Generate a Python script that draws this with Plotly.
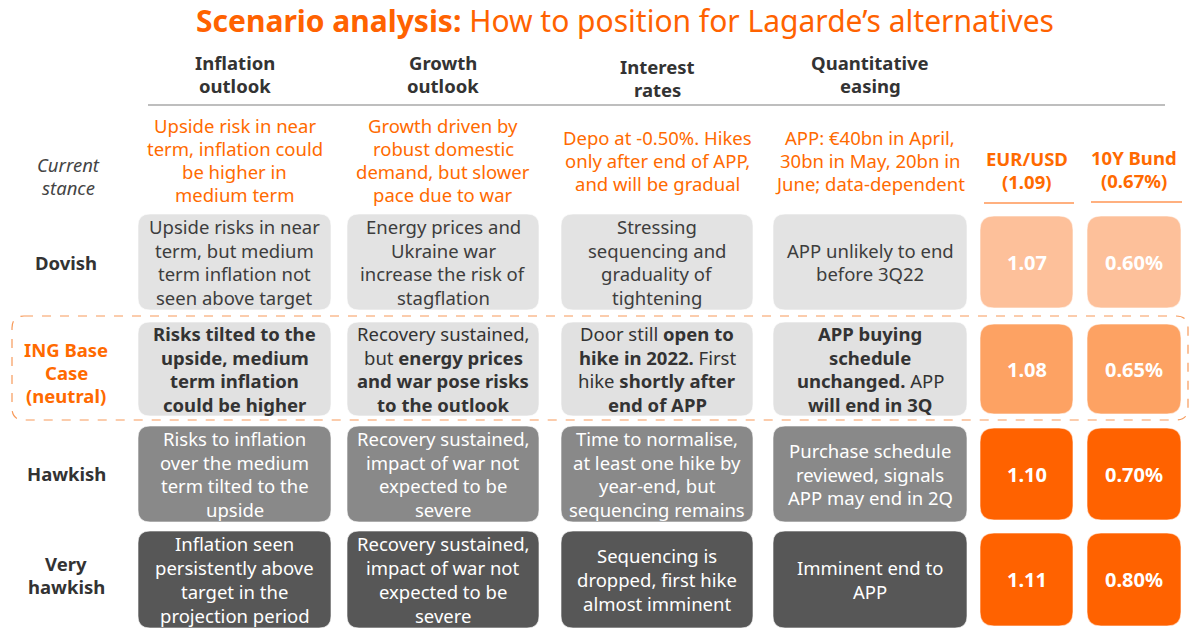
import plotly.graph_objects as go

# ---------------- data ----------------
column_headers = ["Inflation<br>outlook", "Growth<br>outlook", "Interest<br>rates", "Quantitative<br>easing"]
current_stance = [
    "Upside risk in near<br>term, inflation could<br>be higher in<br>medium term",
    "Growth driven by<br>robust domestic<br>demand, but slower<br>pace due to war",
    "Depo at -0.50%. Hikes<br>only after end of APP,<br>and will be gradual",
    "APP: €40bn in April,<br>30bn in May, 20bn in<br>June; data-dependent",
]
scenarios = ["Dovish", "ING Base<br>Case<br>(neutral)", "Hawkish", "Very<br>hawkish"]
inflation_cells = [
    "Upside risks in near<br>term, but medium<br>term inflation not<br>seen above target",
    "<b>Risks tilted to the</b><br><b>upside, medium</b><br><b>term inflation</b><br><b>could be higher</b>",
    "Risks to inflation<br>over the medium<br>term tilted to the<br>upside",
    "Inflation seen<br>persistently above<br>target in the<br>projection period",
]
growth_cells = [
    "Energy prices and<br>Ukraine war<br>increase the risk of<br>stagflation",
    "Recovery sustained,<br>but <b>energy prices</b><br><b>and war pose risks</b><br><b>to the outlook</b>",
    "Recovery sustained,<br>impact of war not<br>expected to be<br>severe",
    "Recovery sustained,<br>impact of war not<br>expected to be<br>severe",
]
rates_cells = [
    "Stressing<br>sequencing and<br>graduality of<br>tightening",
    "Door still <b>open to</b><br><b>hike in 2022.</b> First<br>hike <b>shortly after</b><br><b>end of APP</b>",
    "Time to normalise,<br>at least one hike by<br>year-end, but<br>sequencing remains",
    "Sequencing is<br>dropped, first hike<br>almost imminent",
]
qe_cells = [
    "APP unlikely to end<br>before 3Q22",
    "<b>APP buying</b><br><b>schedule</b><br><b>unchanged.</b> APP<br><b>will end in 3Q</b>",
    "Purchase schedule<br>reviewed, signals<br>APP may end in 2Q",
    "Imminent end to<br>APP",
]
eurusd_current = 1.09
bund_current = 0.67
eurusd = [1.07, 1.08, 1.10, 1.11]
bund = [0.60, 0.65, 0.70, 0.80]

# ---------------- styling / layout ----------------
ORANGE = "#ff6200"
TXT_ORANGE = "#ff6a00"
DARK = "#333333"
FONT = "Noto Sans"
W, H = 1200, 635

col_x = [(138, 331), (347, 539), (561, 753), (773, 967)]
val_x = [(980, 1073), (1087, 1181)]
row_y = [(214, 310), (322, 416), (426, 522), (531, 628)]
label_dy = [0, 3, -1, -5]
cell_fill = ["#e3e3e3", "#e1e1e1", "#898989", "#575757"]
cell_text = ["#3d3d3d", "#333333", "#ffffff", "#ffffff"]
val_fill = ["#fdc09a", "#fda263", "#ff6200", "#ff6200"]
BODY = 18.5


def rrect(x0, y0, x1, y1, r=12):
    return (f"M{x0+r},{y0} L{x1-r},{y0} Q{x1},{y0} {x1},{y0+r} "
            f"L{x1},{y1-r} Q{x1},{y1} {x1-r},{y1} L{x0+r},{y1} "
            f"Q{x0},{y1} {x0},{y1-r} L{x0},{y0+r} Q{x0},{y0} {x0+r},{y0} Z")


shapes = []
ann = []


def lines(text, cx, cy, lh, size, color, wrap=""):
    parts = text.split("<br>")
    n = len(parts)
    for i, p in enumerate(parts):
        t = f"<{wrap}>{p}</{wrap}>" if wrap else p
        ann.append(dict(x=cx, y=cy + (i - (n - 1) / 2) * lh, text=t,
                        font=dict(size=size, color=color, family=FONT)))


# title
ann.append(dict(x=625, y=20, text="<b>Scenario analysis:</b> How to position for Lagarde’s alternatives",
                font=dict(size=30, color=ORANGE, family=FONT)))

# column headers
for i, h in enumerate(column_headers):
    cx = (col_x[i][0] + col_x[i][1]) / 2
    yy = 78 if i == 2 else 74
    lines(h, cx, yy, 23, 18.5, DARK, "b")
shapes.append(dict(type="line", x0=148, x1=1165, y0=105, y1=105, line=dict(color="#7f7f7f", width=1.2)))

# current stance
lines("Current<br>stance", 68, 176, 23, 18.5, "#444444", "i")
for i, t in enumerate(current_stance):
    cx = (col_x[i][0] + col_x[i][1]) / 2
    lines(t, cx, 160, 23, 18.5, TXT_ORANGE)
lines(f"EUR/USD<br>({eurusd_current:.2f})", 1027, 170, 23, 18.5, TXT_ORANGE, "b")
lines(f"10Y Bund<br>({bund_current:.2f}%)", 1134, 169, 23, 18.5, TXT_ORANGE, "b")
shapes.append(dict(type="line", x0=984, x1=1074, y0=203, y1=203, line=dict(color=ORANGE, width=1.2)))
shapes.append(dict(type="line", x0=1091, x1=1182, y0=202, y1=202, line=dict(color=ORANGE, width=1.2)))

# base case dashed frame
shapes.append(dict(type="path", path=rrect(12, 316, 1188, 420, 12),
                   line=dict(color="#f79a5a", width=1.2, dash="dash"), fillcolor="rgba(0,0,0,0)"))

# rows
columns = [inflation_cells, growth_cells, rates_cells, qe_cells]
for r, name in enumerate(scenarios):
    y0, y1 = row_y[r]
    cy = (y0 + y1) / 2
    lcol = TXT_ORANGE if r == 1 else DARK
    lines(name, 66, cy + label_dy[r], 23, BODY, lcol, "b")
    for c in range(4):
        x0, x1 = col_x[c]
        shapes.append(dict(type="path", path=rrect(x0, y0, x1, y1, 12), fillcolor=cell_fill[r],
                           line=dict(color="rgba(255,255,255,0.6)", width=1), layer="below"))
        lines(columns[c][r], (x0 + x1) / 2, cy, 23.8, BODY, cell_text[r])
    for k, (vals, fmt) in enumerate([(eurusd, "{:.2f}"), (bund, "{:.2f}%")]):
        x0, x1 = val_x[k]
        vy0, vy1 = y0 + 2, y1 - 2
        shapes.append(dict(type="path", path=rrect(x0, vy0, x1, vy1, 14), fillcolor=val_fill[r],
                           line=dict(color="rgba(255,255,255,0.6)", width=1), layer="below"))
        ann.append(dict(x=(x0 + x1) / 2, y=(vy0 + vy1) / 2, text="<b>" + fmt.format(vals[r]) + "</b>",
                        font=dict(size=20, color="#ffffff", family=FONT)))

for a in ann:
    a.update(xref="x", yref="y", showarrow=False, xanchor="center", yanchor="middle", align="center")

fig = go.Figure()
fig.add_trace(go.Scatter(x=[0, W], y=[0, H], mode="markers", marker=dict(opacity=0), hoverinfo="skip", showlegend=False))
fig.update_layout(
    width=W, height=H, margin=dict(l=0, r=0, t=0, b=0),
    paper_bgcolor="white", plot_bgcolor="white",
    xaxis=dict(range=[0, W], visible=False, fixedrange=True),
    yaxis=dict(range=[H, 0], visible=False, fixedrange=True),
    shapes=shapes, annotations=ann, showlegend=False,
)
fig.write_html("out.html", config={"displayModeBar": False},
               post_script="document.body.style.margin='0px';document.body.style.overflow='hidden';")
